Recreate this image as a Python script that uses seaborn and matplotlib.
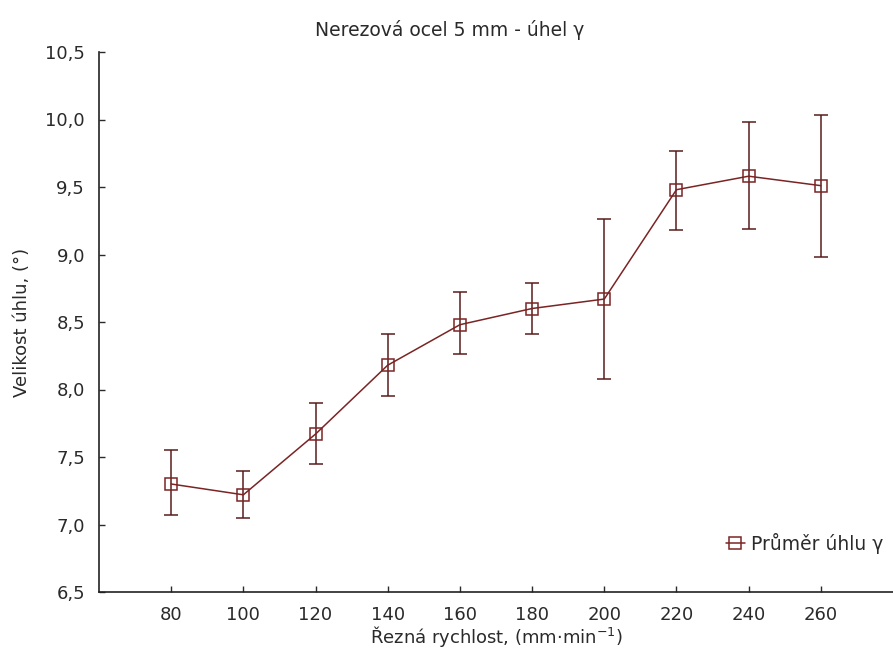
import matplotlib
matplotlib.use("Agg")
import matplotlib.pyplot as plt
import seaborn as sns
import pandas as pd
import numpy as np

speeds = [80, 100, 120, 140, 160, 180, 200, 220, 240, 260]
mean_angle = [7.30, 7.22, 7.67, 8.18, 8.48, 8.60, 8.67, 9.48, 9.58, 9.51]
upper_angle = [7.55, 7.40, 7.90, 8.41, 8.72, 8.79, 9.26, 9.77, 9.98, 10.03]
lower_angle = [7.07, 7.05, 7.45, 7.95, 8.26, 8.41, 8.08, 9.18, 9.19, 8.98]
y_ticks = [6.5, 7.0, 7.5, 8.0, 8.5, 9.0, 9.5, 10.0, 10.5]
x_ticks = speeds

title = "Nerezová ocel 5 mm - úhel γ"
xlabel = "Řezná rychlost, (mm·min$^{-1}$)"
ylabel = "Velikost úhlu, (°)"
legend_label = "Průměr úhlu γ"

sns.set_style("ticks")
plt.rcParams['font.family'] = ['DejaVu Sans']
plt.rcParams['mathtext.default'] = 'regular'

line_color = "#7a2424"
err_color = "#5a1c1c"
text_color = "#2a2a2a"

df = pd.DataFrame({"speed": speeds, "mean": mean_angle,
                   "upper": upper_angle, "lower": lower_angle})

fig = plt.figure(figsize=(8.93, 6.68), dpi=100)
ax = fig.add_axes([99/893, 1 - 592/668, 1 - 99/893, (592 - 52)/668])

yerr = np.vstack([df["mean"] - df["lower"], df["upper"] - df["mean"]])
ax.errorbar(df["speed"], df["mean"], yerr=yerr, fmt="none",
            ecolor=err_color, elinewidth=1.1, capsize=5, capthick=1.1, zorder=2)
sns.lineplot(data=df, x="speed", y="mean", ax=ax, color=line_color,
             linewidth=1.1, marker="s", markersize=8,
             markerfacecolor="none", markeredgecolor=line_color,
             markeredgewidth=1.1, label=legend_label, zorder=3)

ax.set_xlim(60, 280)
ax.set_ylim(6.5, 10.5)
ax.set_xticks(x_ticks)
ax.set_yticks(y_ticks)
ax.set_yticklabels([f"{v:.1f}".replace(".", ",") for v in y_ticks])
ax.tick_params(labelsize=13, length=4, width=1, direction="in",
               colors=text_color, labelcolor=text_color)
ax.tick_params(axis="x", pad=10)
ax.tick_params(axis="y", pad=10)
ax.set_xlabel(xlabel, fontsize=13, color=text_color, labelpad=0)
ax.set_ylabel(ylabel, fontsize=13, color=text_color, labelpad=10)
fig.text(450/893, 1 - 30/668, title, ha="center", va="center",
         fontsize=13.5, color=text_color)
sns.despine(ax=ax)
for s in ["left", "bottom"]:
    ax.spines[s].set_linewidth(1.2)
    ax.spines[s].set_color("#222222")

leg = ax.legend(loc="center left", bbox_to_anchor=(726/893, 1 - 543/668),
                bbox_transform=fig.transFigure, frameon=False, fontsize=13.5,
                handlelength=1.0, handletextpad=0.35, borderaxespad=0, borderpad=0)
for t in leg.get_texts():
    t.set_color(text_color)

fig.savefig("out.png", dpi=100)
